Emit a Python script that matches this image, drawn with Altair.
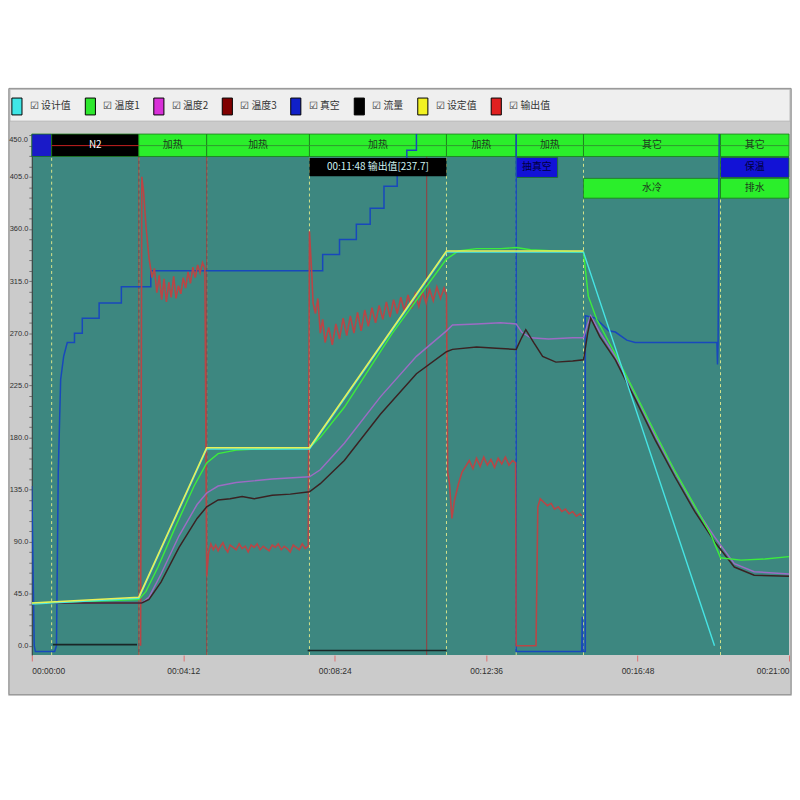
import altair as alt
import pandas as pd

# ---------------- data ----------------
series_names = ["设计值", "温度1", "温度2", "温度3", "真空", "流量", "设定值", "输出值"]
legend_colors = ["#3FE6E6", "#2EE82E", "#D830D8", "#800000", "#1020C8", "#000000", "#F2F222", "#E02020"]
line_colors = ["#46E4E4", "#3CEC3C", "#9C6CC4", "#3A2222", "#1848BC", "#1A2626", "#E8F058", "#B84646"]
line_widths = [1.4, 1.6, 2.6, 1.5, 1.6, 1.6, 1.6, 1.2]

design = [(0, 36), (178, 41), (291, 170), (462, 170), (690, 340), (918, 340), (1136, 0)]
setpoint = [(0, 37), (178, 42), (291, 171), (462, 171), (690, 341), (918, 341)]
temp1 = [(0, 37), (178, 40), (190, 47), (210, 68), (240, 104), (270, 138), (291, 158), (310, 166),
         (340, 169), (380, 170), (462, 171), (480, 180), (520, 206), (600, 270), (690, 334), (710, 341),
         (740, 343), (780, 343), (806, 344), (830, 342), (870, 341), (918, 340), (926, 302), (940, 282),
         (971, 252), (1004, 218), (1037, 184), (1070, 151), (1103, 121), (1130, 96), (1146, 76),
         (1180, 74), (1220, 75), (1260, 77)]
temp2_main = [(0, 37), (183, 37), (195, 42), (215, 62), (245, 95), (275, 122), (291, 132), (310, 138),
              (340, 141), (400, 144), (462, 146), (480, 152), (520, 175), (580, 215), (640, 250),
              (690, 272), (700, 277), (740, 278), (780, 279), (806, 278), (815, 271), (830, 266),
              (860, 265), (900, 266), (918, 266), (925, 278)]
temp2_decay = [(930, 285), (945, 271), (971, 250), (1004, 217), (1037, 182), (1070, 150), (1103, 120),
               (1136, 94), (1169, 71), (1202, 64), (1260, 62)]
temp3_main = [(0, 37), (183, 37), (195, 40), (215, 55), (245, 85), (275, 110), (291, 120), (310, 126),
              (330, 127), (350, 129), (370, 127), (400, 130), (430, 131), (462, 133), (480, 140),
              (520, 160), (580, 200), (640, 235), (690, 254), (700, 256), (740, 258), (773, 257),
              (806, 256), (815, 266), (822, 273), (835, 262), (850, 250), (872, 245), (900, 246),
              (918, 247), (925, 270)]
temp3_decay = [(930, 283), (945, 267), (971, 247), (1004, 213), (1037, 178), (1070, 146), (1103, 116),
               (1136, 90), (1169, 68), (1202, 61), (1260, 60)]
vacuum = [(0, 138), (4, 0), (6, -5), (38, -5), (41, 0), (44, 150), (48, 230), (53, 250), (59, 262),
          (71, 262), (71, 270), (84, 270), (84, 283), (112, 283), (112, 296), (149, 296), (149, 310),
          (198, 310), (198, 324), (484, 324), (484, 338), (512, 338), (512, 351), (540, 351), (540, 364),
          (563, 364), (563, 378), (586, 378), (586, 397), (608, 397), (608, 412), (624, 412), (624, 428),
          (640, 428), (640, 460), (806, 460), (806, -5), (915, -5), (916, 25), (917, -5), (921, -5),
          (921, 285), (938, 283), (950, 277), (960, 272), (971, 271), (990, 264), (1004, 262),
          (1140, 262), (1141, 243), (1142, 262), (1144, 460), (1260, 460)]
flow_a = [(35, 1), (175, 1)]
flow_b = [(459, -4), (690, -4)]
output = [(181, 0), (183, 405), (186, 392), (190, 362), (195, 335), (200, 318), (204, 326), (208, 305),
          (212, 320), (216, 299), (220, 317), (224, 297), (228, 314), (232, 301), (236, 319), (240, 300),
          (244, 311), (248, 304), (252, 318), (256, 309), (260, 323), (264, 313), (268, 327), (272, 318),
          (276, 329), (280, 322), (284, 331), (288, 326), (291, 60), (294, 80), (298, 88), (302, 83),
          (306, 87), (310, 82), (314, 86), (318, 89), (322, 84), (326, 81), (330, 87), (335, 85),
          (340, 83), (345, 88), (350, 84), (355, 86), (360, 81), (365, 87), (370, 85), (375, 88),
          (380, 83), (385, 86), (390, 84), (395, 82), (400, 87), (405, 85), (410, 88), (415, 83),
          (420, 86), (425, 84), (430, 81), (435, 87), (440, 85), (445, 83), (450, 88), (455, 84),
          (460, 86), (462, 358), (466, 320), (468, 296), (472, 287), (476, 300), (480, 270), (484, 282),
          (488, 262), (494, 275), (500, 260), (506, 278), (512, 265), (518, 283), (524, 268), (530, 285),
          (536, 270), (542, 288), (548, 272), (554, 290), (560, 276), (566, 292), (572, 279), (578, 294),
          (584, 282), (590, 297), (596, 284), (602, 299), (608, 287), (614, 301), (620, 289), (626, 303),
          (632, 291), (638, 304), (644, 293), (650, 306), (656, 296), (662, 308), (668, 298), (674, 310),
          (680, 300), (686, 309), (690, 303), (692, 150), (695, 140), (699, 110), (703, 125), (710, 140),
          (716, 150), (722, 155), (728, 160), (734, 153), (740, 162), (746, 155), (752, 163), (758, 156),
          (764, 161), (770, 154), (776, 162), (782, 157), (788, 163), (794, 156), (800, 160), (805, 158),
          (806, 0), (839, 0), (842, 120), (846, 127), (852, 124), (858, 121), (864, 123), (870, 118),
          (876, 120), (882, 116), (888, 118), (894, 114), (900, 116), (906, 112), (912, 114), (915, 112)]

# phase boundaries (seconds) and cursor lines
phase_times = [33, 178, 291, 462, 690, 806, 918, 1146]
cursor_times = [178, 291, 657]

# status bars: (start, end, label, fill, text colour, row)
bar_segments = [
    (0, 33, "", "#1A1AC8", "#FFFFFF", 1),
    (33, 178, "N2", "#000000", "#FFFFFF", 1),
    (178, 291, "加热", "#2BEE2B", "#1E3A1E", 1),
    (291, 462, "加热", "#2BEE2B", "#1E3A1E", 1),
    (462, 690, "加热", "#2BEE2B", "#1E3A1E", 1),
    (690, 806, "加热", "#2BEE2B", "#1E3A1E", 1),
    (806, 918, "加热", "#2BEE2B", "#1E3A1E", 1),
    (918, 1146, "其它", "#2BEE2B", "#1E3A1E", 1),
    (1146, 1260, "其它", "#2BEE2B", "#1E3A1E", 1),
    (806, 875, "抽真空", "#1212D6", "#000040", 2),
    (1146, 1260, "保温", "#1212D6", "#000040", 2),
    (918, 1146, "水冷", "#2BEE2B", "#1E3A1E", 3),
    (1146, 1260, "排水", "#2BEE2B", "#1E3A1E", 3),
]
row_bounds = {1: (422.6, 442), 2: (404.5, 421.8), 3: (386.6, 403.7)}
bar_midlines = [(33, 178, 432, "#C82020"), (178, 1260, 432, "#2E9A2E")]
tooltip_box = (462, 690, 405.5, 421.3, "00:11:48 输出值[237.7]")

x_tick_values = [0, 252, 504, 756, 1008, 1260]
x_tick_labels = ["00:00:00", "00:04:12", "00:08:24", "00:12:36", "00:16:48", "00:21:00"]
y_minor_values = list(range(0, 442, 9))
y_top_label = "450.0"

# ---------------- build tables ----------------
line_sets = [("真空", "vac", vacuum), ("流量", "fa", flow_a), ("流量", "fb", flow_b),
             ("输出值", "out", output), ("温度2", "t2", temp2_main + temp2_decay),
             ("温度3", "t3", temp3_main + temp3_decay), ("温度1", "t1", temp1),
             ("设计值", "des", design), ("设定值", "sp", setpoint)]
rows = []
for name, key, pts in line_sets:
    for i, (t, v) in enumerate(pts):
        rows.append({"series": name, "key": key, "t": t, "v": v, "i": i})
lines_df = pd.DataFrame(rows)

bars_df = pd.DataFrame([
    {"t0": a, "t1": b, "tm": (a + b) / 2, "label": lab, "fill": f, "tc": tc,
     "v0": row_bounds[r][0], "v1": row_bounds[r][1], "vm": sum(row_bounds[r]) / 2}
    for a, b, lab, f, tc, r in bar_segments])
mid_df = pd.DataFrame([{"t0": a, "t1": b, "v": v, "c": c} for a, b, v, c in bar_midlines])
phase_df = pd.DataFrame({"t": phase_times})
cursor_df = pd.DataFrame({"t": cursor_times})
tip_df = pd.DataFrame([{"t0": tooltip_box[0], "t1": tooltip_box[1], "v0": tooltip_box[2],
                        "v1": tooltip_box[3], "tm": (tooltip_box[0] + tooltip_box[1]) / 2,
                        "vm": (tooltip_box[2] + tooltip_box[3]) / 2, "label": tooltip_box[4]}])
one = pd.DataFrame({"a": [0]})

# ---------------- scales / axes ----------------
W, H = 763, 525
xs = alt.Scale(domain=[0, 1260], nice=False, zero=False)
ys = alt.Scale(domain=[-8, 442], nice=False, zero=False)
x_label_expr = "[" + ",".join("'" + s + "'" for s in x_tick_labels) + "][round(datum.value/252)]"
x_axis = alt.Axis(values=x_tick_values, labelExpr=x_label_expr, title=None, grid=False,
                  domain=False, tickColor="#E07070", tickSize=6, labelPadding=6,
                  labelFontSize=8.5, labelColor="#303030", labelFont="Liberation Sans")
y_axis = alt.Axis(values=y_minor_values, title=None, grid=False,
                  labelExpr="datum.value % 45 == 0 ? format(datum.value, '.1f') : ''",
                  domainColor="#404040", tickColor="#707070", tickSize=3, labelPadding=1,
                  labelFontSize=7.5, labelColor="#303030", labelFont="Liberation Sans")

# ---------------- decoration (outside the axes' space) ----------------
white_top = alt.Chart(one).mark_rect(color="#FFFFFF").encode(
    x=alt.value(-40), x2=alt.value(780), y=alt.value(-140), y2=alt.value(-46))
white_bottom = alt.Chart(one).mark_rect(color="#FFFFFF").encode(
    x=alt.value(-40), x2=alt.value(780), y=alt.value(566), y2=alt.value(700))
frame_line = alt.Chart(one).mark_rect(fill="transparent", stroke="#8C8C8C", strokeWidth=1).encode(
    x=alt.value(-23), x2=alt.value(765), y=alt.value(-46), y2=alt.value(565))
legend_strip = alt.Chart(one).mark_rect(color="#EFEFEF", stroke="#B0B0B0", strokeWidth=0.8).encode(
    x=alt.value(-22), x2=alt.value(764), y=alt.value(-45), y2=alt.value(-13))
top_label = alt.Chart(one).mark_text(align="right", baseline="middle", fontSize=7.5,
                                     font="Liberation Sans", color="#303030").encode(
    x=alt.value(-4), y=alt.value(6), text=alt.value(y_top_label))

phase_rules = alt.Chart(phase_df).mark_rule(color="#D6E38A", strokeDash=[3, 3], strokeWidth=1).encode(
    x=alt.X("t:Q", scale=xs, axis=x_axis))
cursor_rules = alt.Chart(cursor_df).mark_rule(color="#8A4848", strokeWidth=1.2).encode(
    x=alt.X("t:Q", scale=xs, axis=x_axis))

bars = alt.Chart(bars_df).mark_rect(stroke="#1C7A1C", strokeWidth=0.8).encode(
    x=alt.X("t0:Q", scale=xs, axis=x_axis), x2="t1:Q",
    y=alt.Y("v0:Q", scale=ys, axis=y_axis), y2="v1:Q",
    color=alt.Color("fill:N", scale=None))
mids = alt.Chart(mid_df).mark_rule(strokeWidth=1).encode(
    x=alt.X("t0:Q", scale=xs, axis=x_axis), x2="t1:Q",
    y=alt.Y("v:Q", scale=ys, axis=y_axis), color=alt.Color("c:N", scale=None))
bar_text = alt.Chart(bars_df).mark_text(fontSize=10, font="Noto Sans CJK SC", baseline="middle").encode(
    x=alt.X("tm:Q", scale=xs, axis=x_axis), y=alt.Y("vm:Q", scale=ys, axis=y_axis),
    text="label:N", color=alt.Color("tc:N", scale=None))

lines = alt.Chart(lines_df).mark_line(clip=True).encode(
    x=alt.X("t:Q", scale=xs, axis=x_axis),
    y=alt.Y("v:Q", scale=ys, axis=y_axis),
    color=alt.Color("series:N", scale=alt.Scale(domain=series_names, range=line_colors), legend=None),
    strokeWidth=alt.StrokeWidth("series:O", scale=alt.Scale(domain=series_names, range=line_widths),
                                legend=None),
    detail="key:N",
    order=alt.Order("i:Q"))

legend_layer = alt.Chart(lines_df).transform_filter("false").mark_square(filled=True).encode(
    x=alt.X("t:Q", scale=xs, axis=x_axis),
    y=alt.Y("v:Q", scale=ys, axis=y_axis),
    color=alt.Color("series:N", scale=alt.Scale(domain=series_names, range=legend_colors),
                    legend=alt.Legend(orient="none", legendX=-24, legendY=-37, direction="horizontal",
                                      columns=8, title=None, symbolType="M-0.6,-1H0.6V1H-0.6Z",
                                      symbolSize=289, symbolOpacity=1, symbolStrokeColor="#000000",
                                      symbolStrokeWidth=1, labelExpr="'☑ ' + datum.label",
                                      labelFont="Noto Sans CJK SC", labelFontSize=10,
                                      labelColor="#333333", labelOffset=4, columnPadding=10,
                                      padding=0)))

tip_rect = alt.Chart(tip_df).mark_rect(color="#000000").encode(
    x=alt.X("t0:Q", scale=xs, axis=x_axis), x2="t1:Q",
    y=alt.Y("v0:Q", scale=ys, axis=y_axis), y2="v1:Q")
tip_text = alt.Chart(tip_df).mark_text(fontSize=10, font="Noto Sans CJK SC", color="#CFF2F2",
                                       baseline="middle").encode(
    x=alt.X("tm:Q", scale=xs, axis=x_axis), y=alt.Y("vm:Q", scale=ys, axis=y_axis), text="label:N")

chart = alt.layer(
    white_top, white_bottom, frame_line, legend_strip, top_label, phase_rules, cursor_rules,
    bars, mids, bar_text, lines, legend_layer, tip_rect, tip_text
).resolve_scale(color="independent").properties(
    width=W, height=H,
    autosize=alt.AutoSizeParams(type="none"),
    padding={"left": 24, "top": 124, "right": 3, "bottom": 135},
    background="#CBCBCB",
).configure_view(stroke=None, fill="#3D8780")

chart.save("out.html", embed_options={"renderer": "svg", "actions": False})
